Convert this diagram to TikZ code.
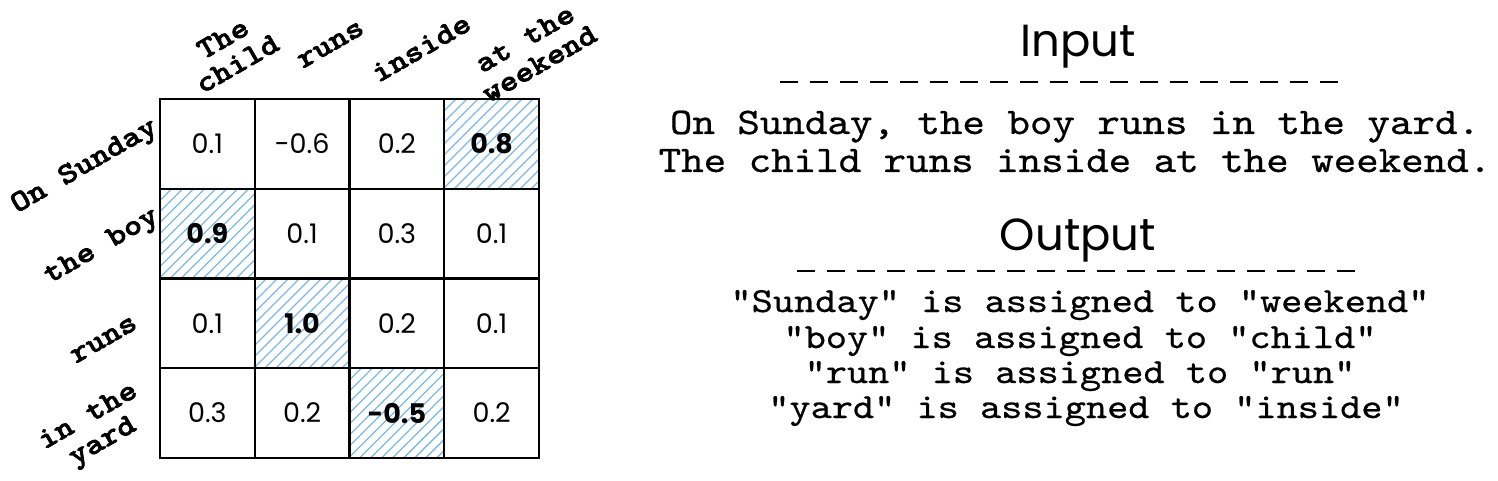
\documentclass[tikz,border=0pt]{standalone}
\usepackage{fontspec}
\newfontfamily\courfont{lmmono10-regular.otf}[FakeStretch=1.143,FakeBold=0.6]
\newfontfamily\courbold{lmmonolt10-bold.otf}[FakeStretch=1.155,FakeBold=2.2]
\newfontfamily\headfont{Poppins}
\newfontfamily\numfont{Poppins}
\definecolor{hatchblue}{RGB}{125,185,232}
\tikzset{
  cellbox/.style={draw=black, line width=2.3pt, minimum width=94.75pt, minimum height=89.75pt, inner sep=0pt, font=\numfont\fontsize{27}{30}\selectfont},
  boldval/.style={font=\numfont\bfseries\fontsize{27}{30}\selectfont},
  lab/.style={rotate=30, align=center, inner sep=0pt, font=\courbold\fontsize{30}{29}\selectfont},
  head/.style={anchor=base, inner sep=0pt, font=\headfont\fontsize{45}{46}\selectfont},
  mono/.style={anchor=base, inner sep=0pt, font=\courfont\fontsize{37.5}{38}\selectfont},
  monoout/.style={anchor=base, inner sep=0pt, font=\courfont\fontsize{35.3}{36}\selectfont},
  dashline/.style={line width=2pt, dash pattern=on 18pt off 12pt},
  hatch/.style={draw=hatchblue, line width=1.4pt}
}
\newcommand{\hatchcell}[2]{%
  \begin{scope}
    \clip (#1,#2) rectangle ++(94.75,89.75);
    \foreach \o in {-100,-89,...,100} {
      \draw[hatch] (#1+\o,#2+89.75) -- ++(100,-100);
    }
  \end{scope}}
\begin{document}
\begin{tikzpicture}[x=1pt,y=-1pt]
\useasboundingbox (0,0) rectangle (1498,481);
% hatched cells
\hatchcell{444.25}{99}
\hatchcell{160}{188.75}
\hatchcell{254.75}{278.5}
\hatchcell{349.5}{368.25}
% row 1
\node[cellbox] (c11) at (207.375,143.875) {0.1};
\node[cellbox] (c12) at (302.125,143.875) {-0.6};
\node[cellbox] (c13) at (396.875,143.875) {0.2};
\node[cellbox,boldval] (c14) at (491.625,143.875) {0.8};
% row 2
\node[cellbox,boldval] (c21) at (207.375,233.625) {0.9};
\node[cellbox] (c22) at (302.125,233.625) {0.1};
\node[cellbox] (c23) at (396.875,233.625) {0.3};
\node[cellbox] (c24) at (491.625,233.625) {0.1};
% row 3
\node[cellbox] (c31) at (207.375,323.375) {0.1};
\node[cellbox,boldval] (c32) at (302.125,323.375) {1.0};
\node[cellbox] (c33) at (396.875,323.375) {0.2};
\node[cellbox] (c34) at (491.625,323.375) {0.1};
% row 4
\node[cellbox] (c41) at (207.375,413.125) {0.3};
\node[cellbox] (c42) at (302.125,413.125) {0.2};
\node[cellbox,boldval] (c43) at (396.875,413.125) {-0.5};
\node[cellbox] (c44) at (491.625,413.125) {0.2};
% column labels
\node[lab] (col1) at (230,51) {The\\child};
\node[lab] (col2) at (331,45) {runs};
\node[lab] (col3) at (421,48) {inside};
\node[lab] (col4) at (532,51) {at the\\weekend};
% row labels
\node[lab] (row1) at (85,167) {On Sunday};
\node[lab] (row2) at (102,247) {the boy};
\node[lab] (row3) at (104,340) {runs};
\node[lab] (row4) at (96,430) {in the\\yard};
% input
\node[head] (inhead) at (1078,57) {Input};
\coordinate (d1a) at (780,82);
\coordinate (d1b) at (1346,82);
\draw[dashline] (d1a) -- (d1b);
\node[mono] (in1) at (1075,134) {On Sunday, the boy runs in the yard.};
\node[mono] (in2) at (1075,172) {The child runs inside at the weekend.};
% output
\node[head] (outhead) at (1078,250) {Output};
\coordinate (d2a) at (797,271);
\coordinate (d2b) at (1363,271);
\draw[dashline] (d2a) -- (d2b);
\node[monoout] (o1) at (1080,312) {"Sunday" is assigned to "weekend"};
\node[monoout] (o2) at (1080,348) {"boy" is assigned to "child"};
\node[monoout] (o3) at (1080,383) {"run" is assigned to "run"};
\node[monoout] (o4) at (1086,418) {"yard" is assigned to "inside"};
\end{tikzpicture}
\end{document}
